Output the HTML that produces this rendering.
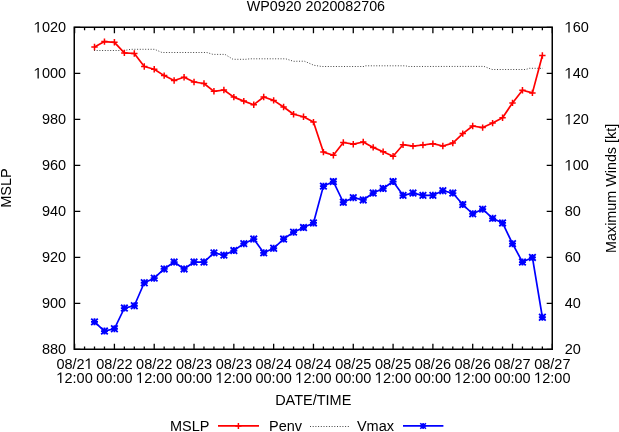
<!DOCTYPE html><html><head><meta charset="utf-8"><style>html,body{margin:0;padding:0;background:#fff;}svg{display:block;will-change:transform;}text{font-family:"Liberation Sans",sans-serif;font-size:14.5px;fill:#000;}</style></head><body><svg width="619" height="432" viewBox="0 0 619 432"><rect x="0" y="0" width="619" height="432" fill="#fff"/><text x="315.9" y="10.6" text-anchor="middle" style="font-size:14.3px" transform="matrix(1 0 0 1.05 0 -0.530)">WP0920 2020082706</text><path d="M74.25 27.45H80.3M552.25 27.45H546.7M74.25 73.45H80.3M552.25 73.45H546.7M74.25 119.45H80.3M552.25 119.45H546.7M74.25 165.45H80.3M552.25 165.45H546.7M74.25 211.45H80.3M552.25 211.45H546.7M74.25 257.45H80.3M552.25 257.45H546.7M74.25 303.45H80.3M552.25 303.45H546.7M74.25 349.45H80.3M552.25 349.45H546.7M74.60 349.25V343.85M74.60 27.25V33.25M84.55 349.25V346.45M84.55 27.25V30.25M94.50 349.25V346.45M94.50 27.25V30.25M104.46 349.25V346.45M104.46 27.25V30.25M114.41 349.25V343.85M114.41 27.25V33.25M124.36 349.25V346.45M124.36 27.25V30.25M134.31 349.25V346.45M134.31 27.25V30.25M144.27 349.25V346.45M144.27 27.25V30.25M154.22 349.25V343.85M154.22 27.25V33.25M164.17 349.25V346.45M164.17 27.25V30.25M174.12 349.25V346.45M174.12 27.25V30.25M184.08 349.25V346.45M184.08 27.25V30.25M194.03 349.25V343.85M194.03 27.25V33.25M203.98 349.25V346.45M203.98 27.25V30.25M213.94 349.25V346.45M213.94 27.25V30.25M223.89 349.25V346.45M223.89 27.25V30.25M233.84 349.25V343.85M233.84 27.25V33.25M243.79 349.25V346.45M243.79 27.25V30.25M253.75 349.25V346.45M253.75 27.25V30.25M263.70 349.25V346.45M263.70 27.25V30.25M273.65 349.25V343.85M273.65 27.25V33.25M283.60 349.25V346.45M283.60 27.25V30.25M293.56 349.25V346.45M293.56 27.25V30.25M303.51 349.25V346.45M303.51 27.25V30.25M313.46 349.25V343.85M313.46 27.25V33.25M323.41 349.25V346.45M323.41 27.25V30.25M333.37 349.25V346.45M333.37 27.25V30.25M343.32 349.25V346.45M343.32 27.25V30.25M353.27 349.25V343.85M353.27 27.25V33.25M363.22 349.25V346.45M363.22 27.25V30.25M373.18 349.25V346.45M373.18 27.25V30.25M383.13 349.25V346.45M383.13 27.25V30.25M393.08 349.25V343.85M393.08 27.25V33.25M403.03 349.25V346.45M403.03 27.25V30.25M412.99 349.25V346.45M412.99 27.25V30.25M422.94 349.25V346.45M422.94 27.25V30.25M432.89 349.25V343.85M432.89 27.25V33.25M442.84 349.25V346.45M442.84 27.25V30.25M452.80 349.25V346.45M452.80 27.25V30.25M462.75 349.25V346.45M462.75 27.25V30.25M472.70 349.25V343.85M472.70 27.25V33.25M482.65 349.25V346.45M482.65 27.25V30.25M492.61 349.25V346.45M492.61 27.25V30.25M502.56 349.25V346.45M502.56 27.25V30.25M512.51 349.25V343.85M512.51 27.25V33.25M522.46 349.25V346.45M522.46 27.25V30.25M532.42 349.25V346.45M532.42 27.25V30.25M542.37 349.25V346.45M542.37 27.25V30.25M552.32 349.25V343.85M552.32 27.25V33.25" stroke="#000" stroke-width="1.3" fill="none"/><rect x="74.25" y="27.25" width="478.0" height="322.0" stroke="#000" stroke-width="1.5" fill="none"/><text x="66.10" y="32.45" text-anchor="end" transform="matrix(1 0 0 1.05 0 -1.623)"> 020</text><text x="564.70" y="32.45" transform="matrix(1 0 0 1.05 0 -1.623)"> 60</text><text x="66.10" y="78.45" text-anchor="end" transform="matrix(1 0 0 1.05 0 -3.923)"> 000</text><text x="564.70" y="78.45" transform="matrix(1 0 0 1.05 0 -3.923)"> 40</text><text x="66.10" y="124.45" text-anchor="end" transform="matrix(1 0 0 1.05 0 -6.223)">980</text><text x="564.70" y="124.45" transform="matrix(1 0 0 1.05 0 -6.223)"> 20</text><text x="66.10" y="170.45" text-anchor="end" transform="matrix(1 0 0 1.05 0 -8.523)">960</text><text x="564.70" y="170.45" transform="matrix(1 0 0 1.05 0 -8.523)"> 00</text><text x="66.10" y="216.45" text-anchor="end" transform="matrix(1 0 0 1.05 0 -10.823)">940</text><text x="564.70" y="216.45" transform="matrix(1 0 0 1.05 0 -10.823)">80</text><text x="66.10" y="262.45" text-anchor="end" transform="matrix(1 0 0 1.05 0 -13.123)">920</text><text x="564.70" y="262.45" transform="matrix(1 0 0 1.05 0 -13.123)">60</text><text x="66.10" y="308.45" text-anchor="end" transform="matrix(1 0 0 1.05 0 -15.423)">900</text><text x="564.70" y="308.45" transform="matrix(1 0 0 1.05 0 -15.423)">40</text><text x="66.10" y="354.45" text-anchor="end" transform="matrix(1 0 0 1.05 0 -17.723)">880</text><text x="564.70" y="354.45" transform="matrix(1 0 0 1.05 0 -17.723)">20</text><text x="74.60" y="369.00" text-anchor="middle" transform="matrix(1 0 0 1.05 0 -18.450)">08/2 </text><text x="74.60" y="383.00" text-anchor="middle" transform="matrix(1 0 0 1.05 0 -19.150)"> 2:00</text><text x="114.41" y="369.00" text-anchor="middle" transform="matrix(1 0 0 1.05 0 -18.450)">08/22</text><text x="114.41" y="383.00" text-anchor="middle" transform="matrix(1 0 0 1.05 0 -19.150)">00:00</text><text x="154.22" y="369.00" text-anchor="middle" transform="matrix(1 0 0 1.05 0 -18.450)">08/22</text><text x="154.22" y="383.00" text-anchor="middle" transform="matrix(1 0 0 1.05 0 -19.150)"> 2:00</text><text x="194.03" y="369.00" text-anchor="middle" transform="matrix(1 0 0 1.05 0 -18.450)">08/23</text><text x="194.03" y="383.00" text-anchor="middle" transform="matrix(1 0 0 1.05 0 -19.150)">00:00</text><text x="233.84" y="369.00" text-anchor="middle" transform="matrix(1 0 0 1.05 0 -18.450)">08/23</text><text x="233.84" y="383.00" text-anchor="middle" transform="matrix(1 0 0 1.05 0 -19.150)"> 2:00</text><text x="273.65" y="369.00" text-anchor="middle" transform="matrix(1 0 0 1.05 0 -18.450)">08/24</text><text x="273.65" y="383.00" text-anchor="middle" transform="matrix(1 0 0 1.05 0 -19.150)">00:00</text><text x="313.46" y="369.00" text-anchor="middle" transform="matrix(1 0 0 1.05 0 -18.450)">08/24</text><text x="313.46" y="383.00" text-anchor="middle" transform="matrix(1 0 0 1.05 0 -19.150)"> 2:00</text><text x="353.27" y="369.00" text-anchor="middle" transform="matrix(1 0 0 1.05 0 -18.450)">08/25</text><text x="353.27" y="383.00" text-anchor="middle" transform="matrix(1 0 0 1.05 0 -19.150)">00:00</text><text x="393.08" y="369.00" text-anchor="middle" transform="matrix(1 0 0 1.05 0 -18.450)">08/25</text><text x="393.08" y="383.00" text-anchor="middle" transform="matrix(1 0 0 1.05 0 -19.150)"> 2:00</text><text x="432.89" y="369.00" text-anchor="middle" transform="matrix(1 0 0 1.05 0 -18.450)">08/26</text><text x="432.89" y="383.00" text-anchor="middle" transform="matrix(1 0 0 1.05 0 -19.150)">00:00</text><text x="472.70" y="369.00" text-anchor="middle" transform="matrix(1 0 0 1.05 0 -18.450)">08/26</text><text x="472.70" y="383.00" text-anchor="middle" transform="matrix(1 0 0 1.05 0 -19.150)"> 2:00</text><text x="512.51" y="369.00" text-anchor="middle" transform="matrix(1 0 0 1.05 0 -18.450)">08/27</text><text x="512.51" y="383.00" text-anchor="middle" transform="matrix(1 0 0 1.05 0 -19.150)">00:00</text><text x="552.32" y="369.00" text-anchor="middle" transform="matrix(1 0 0 1.05 0 -18.450)">08/27</text><text x="552.32" y="383.00" text-anchor="middle" transform="matrix(1 0 0 1.05 0 -19.150)"> 2:00</text><path d="M37.52 32.45L37.52 23.34L34.83 25.02L34.83 23.90L37.60 21.98L38.77 21.98L38.77 32.45ZM568.38 32.45L568.38 23.34L565.69 25.02L565.69 23.90L568.45 21.98L569.63 21.98L569.63 32.45ZM37.52 78.45L37.52 69.34L34.83 71.02L34.83 69.90L37.60 67.98L38.77 67.98L38.77 78.45ZM568.38 78.45L568.38 69.34L565.69 71.02L565.69 69.90L568.45 67.98L569.63 67.98L569.63 78.45ZM568.38 124.45L568.38 115.34L565.69 117.02L565.69 115.90L568.45 113.98L569.63 113.98L569.63 124.45ZM568.38 170.45L568.38 161.34L565.69 163.02L565.69 161.90L568.45 159.98L569.63 159.98L569.63 170.45ZM88.36 369.00L88.36 359.89L85.67 361.57L85.67 360.45L88.43 358.53L89.61 358.53L89.61 369.00ZM60.14 383.00L60.14 373.89L57.45 375.57L57.45 374.45L60.21 372.53L61.39 372.53L61.39 383.00ZM139.76 383.00L139.76 373.89L137.07 375.57L137.07 374.45L139.83 372.53L141.01 372.53L141.01 383.00ZM219.38 383.00L219.38 373.89L216.69 375.57L216.69 374.45L219.45 372.53L220.63 372.53L220.63 383.00ZM299.00 383.00L299.00 373.89L296.31 375.57L296.31 374.45L299.07 372.53L300.25 372.53L300.25 383.00ZM378.62 383.00L378.62 373.89L375.93 375.57L375.93 374.45L378.69 372.53L379.87 372.53L379.87 383.00ZM458.24 383.00L458.24 373.89L455.55 375.57L455.55 374.45L458.31 372.53L459.49 372.53L459.49 383.00ZM537.86 383.00L537.86 373.89L535.17 375.57L535.17 374.45L537.93 372.53L539.11 372.53L539.11 383.00Z" fill="#000"/><text x="313.25" y="405" text-anchor="middle" transform="matrix(1 0 0 1.05 0 -20.250)">DATE/TIME</text><text transform="translate(11,188) rotate(-90) scale(1,1.05)" text-anchor="middle">MSLP</text><text transform="translate(615.9,188.4) rotate(-90) scale(1,1.05)" text-anchor="middle" style="font-size:14.35px">Maximum Winds [kt]</text><polyline points="94,50.5 124,50.5 131,49.3 154.5,49.3 162,52.5 207,52.5 213,54.4 225,54.4 233,59.3 246,59.3 250,58.8 285.7,58.8 293.5,61.3 304.4,61.2 314,65.3 321.8,66.5 364,66.5 365.5,65.8 406,65.8 407.5,66.5 484,66.4 492,69.5 525.8,69.5 529.4,68.3 543,68.3" fill="none" stroke="#444" stroke-width="1" stroke-dasharray="1 1.7"/><polyline points="94.50,46.95 104.46,41.60 114.41,42.30 124.36,52.90 134.31,53.50 144.27,66.50 154.22,69.20 164.17,75.60 174.12,80.50 184.08,77.20 194.03,82.00 203.98,83.50 213.94,91.30 223.89,90.00 233.84,97.10 243.79,101.10 253.75,104.70 263.70,97.00 273.65,100.40 283.60,107.00 293.56,114.20 303.51,116.80 313.46,122.10 323.41,152.10 333.37,155.20 343.32,142.50 353.27,144.20 363.22,142.00 373.18,147.40 383.13,151.70 393.08,156.30 403.03,144.70 412.99,146.10 422.94,145.00 432.89,143.70 442.84,146.00 452.80,143.10 462.75,133.60 472.70,126.00 482.65,127.60 492.61,123.10 502.56,117.70 512.51,102.90 522.46,90.20 532.42,92.90 542.37,55.50" fill="none" stroke="#f00" stroke-width="1.7" stroke-linejoin="round"/><path d="M91.30 46.95h6.4M94.50 43.75v6.4M101.26 41.60h6.4M104.46 38.40v6.4M111.21 42.30h6.4M114.41 39.10v6.4M121.16 52.90h6.4M124.36 49.70v6.4M131.12 53.50h6.4M134.31 50.30v6.4M141.07 66.50h6.4M144.27 63.30v6.4M151.02 69.20h6.4M154.22 66.00v6.4M160.97 75.60h6.4M164.17 72.40v6.4M170.93 80.50h6.4M174.12 77.30v6.4M180.88 77.20h6.4M184.08 74.00v6.4M190.83 82.00h6.4M194.03 78.80v6.4M200.78 83.50h6.4M203.98 80.30v6.4M210.74 91.30h6.4M213.94 88.10v6.4M220.69 90.00h6.4M223.89 86.80v6.4M230.64 97.10h6.4M233.84 93.90v6.4M240.59 101.10h6.4M243.79 97.90v6.4M250.55 104.70h6.4M253.75 101.50v6.4M260.50 97.00h6.4M263.70 93.80v6.4M270.45 100.40h6.4M273.65 97.20v6.4M280.40 107.00h6.4M283.60 103.80v6.4M290.36 114.20h6.4M293.56 111.00v6.4M300.31 116.80h6.4M303.51 113.60v6.4M310.26 122.10h6.4M313.46 118.90v6.4M320.21 152.10h6.4M323.41 148.90v6.4M330.17 155.20h6.4M333.37 152.00v6.4M340.12 142.50h6.4M343.32 139.30v6.4M350.07 144.20h6.4M353.27 141.00v6.4M360.02 142.00h6.4M363.22 138.80v6.4M369.98 147.40h6.4M373.18 144.20v6.4M379.93 151.70h6.4M383.13 148.50v6.4M389.88 156.30h6.4M393.08 153.10v6.4M399.83 144.70h6.4M403.03 141.50v6.4M409.79 146.10h6.4M412.99 142.90v6.4M419.74 145.00h6.4M422.94 141.80v6.4M429.69 143.70h6.4M432.89 140.50v6.4M439.64 146.00h6.4M442.84 142.80v6.4M449.60 143.10h6.4M452.80 139.90v6.4M459.55 133.60h6.4M462.75 130.40v6.4M469.50 126.00h6.4M472.70 122.80v6.4M479.45 127.60h6.4M482.65 124.40v6.4M489.41 123.10h6.4M492.61 119.90v6.4M499.36 117.70h6.4M502.56 114.50v6.4M509.31 102.90h6.4M512.51 99.70v6.4M519.26 90.20h6.4M522.46 87.00v6.4M529.22 92.90h6.4M532.42 89.70v6.4M539.17 55.50h6.4M542.37 52.30v6.4" stroke="#f00" stroke-width="1.5" fill="none"/><polyline points="94.50,321.85 104.46,331.05 114.41,328.75 124.36,308.05 134.31,305.75 144.27,282.75 154.22,278.15 164.17,268.95 174.12,262.05 184.08,268.95 194.03,262.05 203.98,262.05 213.94,252.85 223.89,255.15 233.84,250.55 243.79,243.65 253.75,239.05 263.70,252.85 273.65,248.25 283.60,239.05 293.56,232.15 303.51,227.55 313.46,222.95 323.41,186.15 333.37,181.55 343.32,202.25 353.27,197.65 363.22,199.95 373.18,193.05 383.13,188.45 393.08,181.55 403.03,195.35 412.99,193.05 422.94,195.35 432.89,195.35 442.84,190.75 452.80,193.05 462.75,204.55 472.70,213.75 482.65,209.15 492.61,218.35 502.56,222.95 512.51,243.65 522.46,262.05 532.42,257.45 542.37,317.25" fill="none" stroke="#00f" stroke-width="1.7" stroke-linejoin="round"/><path d="M91.00 321.85h7M94.50 318.35v7M91.20 318.55l6.6 6.6M91.20 325.15l6.6 -6.6M100.96 331.05h7M104.46 327.55v7M101.16 327.75l6.6 6.6M101.16 334.35l6.6 -6.6M110.91 328.75h7M114.41 325.25v7M111.11 325.45l6.6 6.6M111.11 332.05l6.6 -6.6M120.86 308.05h7M124.36 304.55v7M121.06 304.75l6.6 6.6M121.06 311.35l6.6 -6.6M130.81 305.75h7M134.31 302.25v7M131.01 302.45l6.6 6.6M131.01 309.05l6.6 -6.6M140.77 282.75h7M144.27 279.25v7M140.97 279.45l6.6 6.6M140.97 286.05l6.6 -6.6M150.72 278.15h7M154.22 274.65v7M150.92 274.85l6.6 6.6M150.92 281.45l6.6 -6.6M160.67 268.95h7M164.17 265.45v7M160.87 265.65l6.6 6.6M160.87 272.25l6.6 -6.6M170.62 262.05h7M174.12 258.55v7M170.82 258.75l6.6 6.6M170.82 265.35l6.6 -6.6M180.58 268.95h7M184.08 265.45v7M180.78 265.65l6.6 6.6M180.78 272.25l6.6 -6.6M190.53 262.05h7M194.03 258.55v7M190.73 258.75l6.6 6.6M190.73 265.35l6.6 -6.6M200.48 262.05h7M203.98 258.55v7M200.68 258.75l6.6 6.6M200.68 265.35l6.6 -6.6M210.44 252.85h7M213.94 249.35v7M210.63 249.55l6.6 6.6M210.63 256.15l6.6 -6.6M220.39 255.15h7M223.89 251.65v7M220.59 251.85l6.6 6.6M220.59 258.45l6.6 -6.6M230.34 250.55h7M233.84 247.05v7M230.54 247.25l6.6 6.6M230.54 253.85l6.6 -6.6M240.29 243.65h7M243.79 240.15v7M240.49 240.35l6.6 6.6M240.49 246.95l6.6 -6.6M250.25 239.05h7M253.75 235.55v7M250.44 235.75l6.6 6.6M250.44 242.35l6.6 -6.6M260.20 252.85h7M263.70 249.35v7M260.40 249.55l6.6 6.6M260.40 256.15l6.6 -6.6M270.15 248.25h7M273.65 244.75v7M270.35 244.95l6.6 6.6M270.35 251.55l6.6 -6.6M280.10 239.05h7M283.60 235.55v7M280.30 235.75l6.6 6.6M280.30 242.35l6.6 -6.6M290.06 232.15h7M293.56 228.65v7M290.25 228.85l6.6 6.6M290.25 235.45l6.6 -6.6M300.01 227.55h7M303.51 224.05v7M300.21 224.25l6.6 6.6M300.21 230.85l6.6 -6.6M309.96 222.95h7M313.46 219.45v7M310.16 219.65l6.6 6.6M310.16 226.25l6.6 -6.6M319.91 186.15h7M323.41 182.65v7M320.11 182.85l6.6 6.6M320.11 189.45l6.6 -6.6M329.87 181.55h7M333.37 178.05v7M330.06 178.25l6.6 6.6M330.06 184.85l6.6 -6.6M339.82 202.25h7M343.32 198.75v7M340.02 198.95l6.6 6.6M340.02 205.55l6.6 -6.6M349.77 197.65h7M353.27 194.15v7M349.97 194.35l6.6 6.6M349.97 200.95l6.6 -6.6M359.72 199.95h7M363.22 196.45v7M359.92 196.65l6.6 6.6M359.92 203.25l6.6 -6.6M369.68 193.05h7M373.18 189.55v7M369.88 189.75l6.6 6.6M369.88 196.35l6.6 -6.6M379.63 188.45h7M383.13 184.95v7M379.83 185.15l6.6 6.6M379.83 191.75l6.6 -6.6M389.58 181.55h7M393.08 178.05v7M389.78 178.25l6.6 6.6M389.78 184.85l6.6 -6.6M399.53 195.35h7M403.03 191.85v7M399.73 192.05l6.6 6.6M399.73 198.65l6.6 -6.6M409.49 193.05h7M412.99 189.55v7M409.69 189.75l6.6 6.6M409.69 196.35l6.6 -6.6M419.44 195.35h7M422.94 191.85v7M419.64 192.05l6.6 6.6M419.64 198.65l6.6 -6.6M429.39 195.35h7M432.89 191.85v7M429.59 192.05l6.6 6.6M429.59 198.65l6.6 -6.6M439.34 190.75h7M442.84 187.25v7M439.54 187.45l6.6 6.6M439.54 194.05l6.6 -6.6M449.30 193.05h7M452.80 189.55v7M449.50 189.75l6.6 6.6M449.50 196.35l6.6 -6.6M459.25 204.55h7M462.75 201.05v7M459.45 201.25l6.6 6.6M459.45 207.85l6.6 -6.6M469.20 213.75h7M472.70 210.25v7M469.40 210.45l6.6 6.6M469.40 217.05l6.6 -6.6M479.15 209.15h7M482.65 205.65v7M479.35 205.85l6.6 6.6M479.35 212.45l6.6 -6.6M489.11 218.35h7M492.61 214.85v7M489.31 215.05l6.6 6.6M489.31 221.65l6.6 -6.6M499.06 222.95h7M502.56 219.45v7M499.26 219.65l6.6 6.6M499.26 226.25l6.6 -6.6M509.01 243.65h7M512.51 240.15v7M509.21 240.35l6.6 6.6M509.21 246.95l6.6 -6.6M518.96 262.05h7M522.46 258.55v7M519.16 258.75l6.6 6.6M519.16 265.35l6.6 -6.6M528.92 257.45h7M532.42 253.95v7M529.12 254.15l6.6 6.6M529.12 260.75l6.6 -6.6M538.87 317.25h7M542.37 313.75v7M539.07 313.95l6.6 6.6M539.07 320.55l6.6 -6.6" stroke="#00f" stroke-width="1.8" fill="none"/><text x="209.5" y="431" text-anchor="end" transform="matrix(1 0 0 1.05 0 -21.550)">MSLP</text><path d="M218 425.9H259" stroke="#f00" stroke-width="1.8" fill="none"/><path d="M238.4 423v5.9M235.3 425.9h6.2" stroke="#f00" stroke-width="1.5" fill="none"/><text x="302.1" y="431" text-anchor="end" transform="matrix(1 0 0 1.05 0 -21.550)">Penv</text><path d="M310 426.5H350" stroke="#444" stroke-width="1" stroke-dasharray="1 1.7" fill="none"/><text x="394" y="431" text-anchor="end" transform="matrix(1 0 0 1.05 0 -21.550)">Vmax</text><path d="M403 425.9H443.4" stroke="#00f" stroke-width="1.8" fill="none"/><path d="M420.1 426h6M423.1 423v6M420.3 423.2l5.6 5.6M420.3 428.8l5.6 -5.6" stroke="#00f" stroke-width="1.6" fill="none"/></svg></body></html>
